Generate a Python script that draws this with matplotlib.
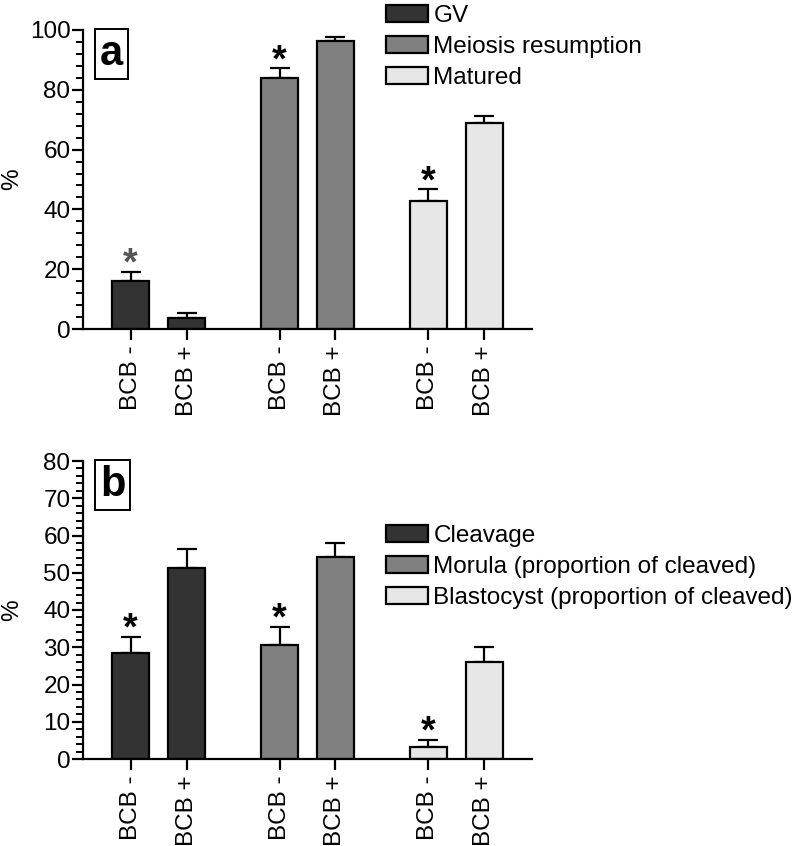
import numpy as np
import matplotlib.pyplot as plt
from matplotlib.patches import Patch
from matplotlib.ticker import MultipleLocator

plt.rcParams['font.family'] = ['Liberation Sans', 'DejaVu Sans']

# panel a
series_a = ["GV", "Meiosis resumption", "Matured"]
mean_a_minus = [16.0, 84.0, 42.8]
mean_a_plus = [3.8, 96.3, 68.8]
err_a_minus = [3.0, 3.2, 3.9]
err_a_plus = [1.4, 1.5, 2.3]

# panel b
series_b = ["Cleavage", "Morula (proportion of cleaved)", "Blastocyst (proportion of cleaved)"]
mean_b_minus = [28.5, 30.7, 3.3]
mean_b_plus = [51.2, 54.2, 26.1]
err_b_minus = [4.3, 4.7, 1.9]
err_b_plus = [5.1, 3.9, 3.9]

tick_labels = ["BCB -", "BCB +"]
colors = ["#333333", "#808080", "#e6e6e6"]
star_colors_a = ["#555555", "black", "black"]

W, H = 799, 846
FS = 17.5
fig = plt.figure(figsize=(W / 100, H / 100), dpi=100)


def panel(rect, minus, plus, emin, eplus, ymax, major, minor, letter, star_cols):
    ax = fig.add_axes(rect)
    pos = []
    labels = []
    for i in range(3):
        x0 = i * 2.66
        for j, (m, e) in enumerate([(minus[i], emin[i]), (plus[i], eplus[i])]):
            ax.bar(x0 + j, m, width=0.66, color=colors[i], edgecolor="black",
                   linewidth=1.6, zorder=2)
            ax.errorbar(x0 + j, m, yerr=[[0], [e]], fmt="none", ecolor="black",
                        elinewidth=1.6, capsize=7, capthick=1.6, zorder=1)
            pos.append(x0 + j)
            labels.append(tick_labels[j])
        ax.annotate("*", (x0, minus[i] + emin[i]), xytext=(0, -2),
                    textcoords="offset points", ha="center", va="baseline",
                    fontsize=27, fontweight="bold", color=star_cols[i])
    ax.set_xlim(-0.85, 7.17)
    ax.set_ylim(0, ymax)
    ax.set_xticks(pos)
    ax.set_xticklabels(labels, rotation=90, fontsize=FS)
    ax.yaxis.set_major_locator(MultipleLocator(major))
    ax.yaxis.set_minor_locator(MultipleLocator(minor))
    ax.tick_params(axis="y", labelsize=FS, width=1.6, length=8, pad=1)
    ax.tick_params(axis="y", which="minor", width=1.4, length=5)
    ax.tick_params(axis="x", width=1.6, length=8, pad=4)
    for s in ["top", "right"]:
        ax.spines[s].set_visible(False)
    for s in ["left", "bottom"]:
        ax.spines[s].set_linewidth(1.6)
    ax.text(0.038, 0.985, letter, transform=ax.transAxes, ha="left", va="top",
            fontsize=30, fontweight="bold",
            bbox=dict(boxstyle="square,pad=0.12", fc="white", ec="black", lw=1.4))
    fig.text(12 / W, rect[1] + rect[3] / 2, "%", rotation=90, ha="center",
             va="center", fontsize=FS)
    return ax


ax_a = panel([83 / W, (H - 329) / H, 449 / W, 299 / H],
             mean_a_minus, mean_a_plus, err_a_minus, err_a_plus,
             100, 20, 4, "a", star_colors_a)
ax_b = panel([83 / W, (H - 759) / H, 449 / W, 298 / H],
             mean_b_minus, mean_b_plus, err_b_minus, err_b_plus,
             80, 10, 2, "b", ["black"] * 3)

for ax, names, y in [(ax_a, series_a, 1 - 0 / H), (ax_b, series_b, 1 - 520 / H)]:
    handles = [Patch(facecolor=c, edgecolor="black", linewidth=1.6) for c in colors]
    fig.legend(handles, names, loc="upper left", bbox_to_anchor=(381 / W, y),
               frameon=False, fontsize=FS, handlelength=1.75, handleheight=0.7,
               handletextpad=0.2, labelspacing=0.37, borderaxespad=0.1,
               borderpad=0.1)

fig.savefig("out.png", dpi=100)
